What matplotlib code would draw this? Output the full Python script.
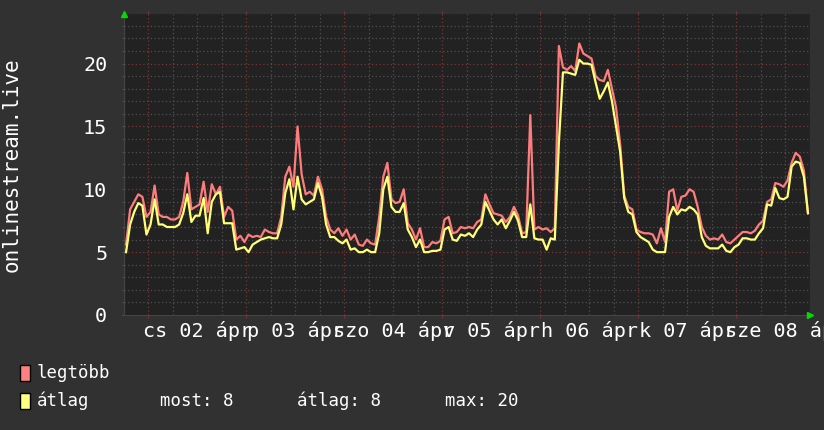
import matplotlib
matplotlib.use('Agg')
import matplotlib.pyplot as plt
from matplotlib.patches import Rectangle
from matplotlib.ticker import MultipleLocator
import numpy as np

# orak a kezdettol (apr 01 18:00), oranként egy mintavetel
legtobb = [
    5.6, 8.4, 9.0, 9.6, 9.4, 7.8, 8.2, 10.3, 8.0, 7.8,
    7.8, 7.6, 7.6, 7.8, 9.0, 11.3, 8.4, 8.6, 8.8, 10.6,
    8.2, 10.4, 9.6, 10.2, 7.8, 8.6, 8.3, 6.0, 6.3, 5.8,
    6.4, 6.2, 6.3, 6.2, 6.8, 6.6, 6.5, 6.5, 7.8, 11.0,
    11.8, 10.2, 15.0, 11.2, 9.6, 9.8, 9.5, 11.0, 10.0, 7.8,
    6.8, 6.5, 6.9, 6.3, 6.8, 6.0, 6.4, 5.6, 5.5, 6.0,
    5.7, 5.6, 7.8, 11.0, 12.1, 9.2, 8.9, 9.0, 10.0, 7.3,
    6.8, 6.0, 6.9, 5.4, 5.4, 5.8, 5.7, 5.9, 7.6, 7.8,
    6.5, 6.6, 7.0, 6.9, 7.0, 6.9, 7.4, 7.6, 9.6, 8.8,
    8.1, 8.0, 7.9, 7.4, 7.8, 8.6, 7.9, 6.5, 6.6, 15.9,
    6.8, 7.0, 6.8, 6.9, 6.6, 6.9, 21.4, 19.7, 19.5, 19.8,
    19.4, 21.6, 20.8, 20.6, 20.4, 19.0, 18.7, 18.6, 19.5, 18.0,
    16.5, 13.6, 9.5, 8.6, 8.4, 6.8, 6.6, 6.5, 6.5, 6.4,
    5.7, 6.9, 5.8, 9.8, 10.0, 8.3, 9.4, 9.5, 10.0, 9.8,
    8.6, 7.0, 6.3, 6.0, 6.1, 6.0, 6.4, 5.8, 5.7, 6.0,
    6.3, 6.6, 6.6, 6.5, 6.7, 7.2, 7.5, 9.0, 9.2, 10.5,
    10.4, 10.2, 10.7, 12.1, 12.9, 12.6, 11.5, 8.1,
]
atlag = [
    5.0, 7.2, 8.2, 8.9, 8.7, 6.4, 7.2, 9.2, 7.2, 7.2,
    7.0, 7.0, 7.0, 7.2, 8.1, 9.6, 7.4, 7.9, 7.9, 9.3,
    6.5, 9.0, 9.6, 9.8, 7.3, 7.3, 7.3, 5.2, 5.3, 5.4,
    5.0, 5.6, 5.8, 6.0, 6.1, 6.2, 6.1, 6.1, 7.2, 9.7,
    10.8, 8.4, 11.0, 9.2, 8.8, 9.0, 9.2, 10.5, 9.4, 7.2,
    6.2, 6.2, 5.9, 5.7, 6.0, 5.2, 5.3, 5.0, 5.0, 5.2,
    5.0, 5.0, 6.5, 10.0, 11.0, 8.6, 8.2, 8.2, 8.9, 6.8,
    6.2, 5.4, 6.0, 5.0, 5.0, 5.1, 5.1, 5.2, 6.8, 7.0,
    6.0, 5.9, 6.4, 6.3, 6.5, 6.2, 6.8, 7.2, 9.0, 8.3,
    7.6, 7.2, 7.6, 6.9, 7.5, 8.2, 7.5, 6.2, 6.2, 8.8,
    6.1, 6.0, 6.0, 5.2, 6.1, 6.0, 13.7, 19.3, 19.3, 19.2,
    19.1, 20.3, 20.0, 20.0, 19.9, 18.5, 17.2, 17.8, 18.5, 17.0,
    15.0, 13.0, 9.3, 8.2, 8.0, 6.6, 6.2, 6.0, 5.8, 5.2,
    5.0, 5.0, 5.0, 7.8, 8.6, 8.0, 8.4, 8.3, 8.6, 8.4,
    8.0, 6.2, 5.5, 5.3, 5.3, 5.3, 5.6, 5.1, 5.0, 5.4,
    5.6, 6.1, 6.1, 6.0, 6.0, 6.5, 6.9, 8.8, 8.7, 10.1,
    9.3, 9.2, 9.4, 11.8, 12.2, 12.1, 11.0, 8.1,
]
nap_cimkek = ['cs 02 ápr', 'p 03 ápr', 'szo 04 ápr', 'v 05 ápr',
              'h 06 ápr', 'k 07 ápr', 'sze 08 ápr']
y_cimkek = ['0', '5', '10', '15', '20']
statisztika = ['most: 8', 'átlag: 8', 'max: 20']

ora = np.arange(len(legtobb)) + 0.5

bg = '#313131'
plot_bg = '#222222'
mono = ['DejaVu Sans Mono']

fig = plt.figure(figsize=(8.24, 4.3), dpi=100, facecolor=bg)
ax = fig.add_axes([124 / 824, 1 - 315 / 430, 686 / 824, 301 / 430])
ax.set_facecolor(plot_bg)

ax.plot(ora, legtobb, color='#ff7c7c', lw=1.6, zorder=3)
ax.plot(ora, atlag, color='#ffff78', lw=1.6, zorder=4)

ax.set_xlim(0, 168)
ax.set_ylim(0, (315 - 14.5) / 12.55)

# racs: kisebb szurke, nagyobb piros
for h in range(0, 169, 6):
    if (h - 6) % 24 != 0:
        ax.axvline(h, color='#505050', lw=0.9, ls=(0, (1, 2)), zorder=1)
for h in range(6, 169, 24):
    ax.axvline(h, color='#7a3434', lw=0.9, ls=(0, (1, 2)), zorder=2)
for v in range(0, 25):
    if v % 5:
        ax.axhline(v, color='#505050', lw=0.9, ls=(0, (1, 2)), zorder=1)
for v in range(5, 25, 5):
    ax.axhline(v, color='#7a3434', lw=0.9, ls=(0, (1, 2)), zorder=2)

ax.set_xticks([6 + 24 * i for i in range(7)])
ax.set_xticks([18 + 24 * i for i in range(7)], minor=True)
ax.set_xticklabels([])
ax.set_xticklabels(nap_cimkek, minor=True, family=mono, fontsize=14.5, color='white')
ax.set_yticks([0, 5, 10, 15, 20])
ax.yaxis.set_minor_locator(MultipleLocator(1))
ax.set_yticklabels(y_cimkek, family=mono, fontsize=14.5, color='white')
ax.tick_params(axis='x', which='major', length=2, color='#7a3434', direction='out', top=True)
ax.tick_params(axis='x', which='minor', length=0, pad=4)
ax.tick_params(axis='y', which='both', length=1.5, color='#555555', pad=10.5)

for s in ax.spines.values():
    s.set_visible(False)
ax.spines['left'].set_visible(True)
ax.spines['left'].set_color('#444444')
ax.spines['bottom'].set_visible(True)
ax.spines['bottom'].set_color('#444444')

ax.set_ylabel('onlinestream.live', family=mono, fontsize=15, color='white', labelpad=44)

# zold nyilak a tengelyek vegen
ax.plot([0], [1.0], marker='^', color='#00dd00', markersize=5, transform=ax.transAxes,
        clip_on=False, zorder=5)
ax.plot([1.0], [0], marker='>', color='#00dd00', markersize=5, transform=ax.transAxes,
        clip_on=False, zorder=5)

# jelmagyarazat
W, H = 824, 430
def box(x, y, c):
    fig.patches.append(Rectangle((x / W, 1 - (y + 16) / H), 10 / W, 16 / H,
                                 transform=fig.transFigure, facecolor=c,
                                 edgecolor='black', lw=1))

box(20, 365, '#ff8080')
box(20, 393, '#ffff80')
fig.text(37 / W, 1 - 373 / H, 'legtöbb', family=mono, fontsize=12.5, color='white', va='center')
fig.text(37 / W, 1 - 401 / H, 'átlag', family=mono, fontsize=12.5, color='white', va='center')
for xp, t in zip([160, 297, 445], statisztika):
    fig.text(xp / W, 1 - 401 / H, t, family=mono, fontsize=12.5, color='white', va='center')

plt.savefig('out.png', dpi=100, facecolor=bg)
